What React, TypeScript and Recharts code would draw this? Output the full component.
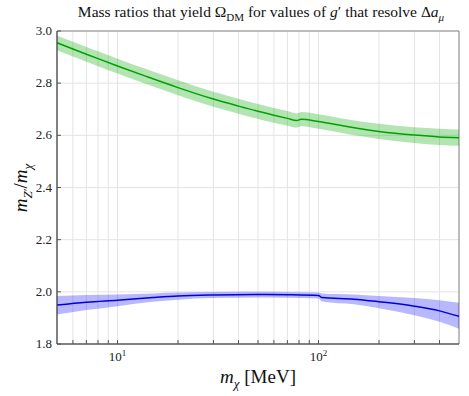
import React from "react";
import { ComposedChart, Area, Line, XAxis, YAxis, CartesianGrid, ReferenceArea } from "recharts";

const greenX = [5, 6, 7, 8, 10, 14, 20, 30, 40, 50, 60, 70, 78, 82, 100, 143, 200, 300, 400, 500];
const greenMid = [2.955, 2.931, 2.911, 2.894, 2.866, 2.825, 2.783, 2.739, 2.712, 2.692, 2.677, 2.665, 2.657, 2.662, 2.653, 2.632, 2.615, 2.601, 2.594, 2.591];
const greenLo = [2.926, 2.902, 2.882, 2.865, 2.837, 2.796, 2.754, 2.71, 2.683, 2.663, 2.648, 2.637, 2.63, 2.635, 2.625, 2.603, 2.586, 2.571, 2.563, 2.56];
const greenHi = [2.983, 2.959, 2.939, 2.922, 2.894, 2.853, 2.811, 2.767, 2.74, 2.72, 2.705, 2.693, 2.684, 2.689, 2.681, 2.66, 2.644, 2.631, 2.625, 2.622];

const blueX = [5, 7, 10, 15, 20, 30, 50, 70, 100, 104, 150, 200, 300, 400, 500];
const blueMid = [1.949, 1.96, 1.968, 1.978, 1.984, 1.988, 1.99, 1.989, 1.986, 1.978, 1.972, 1.962, 1.945, 1.927, 1.906];
const blueLo = [1.913, 1.93, 1.945, 1.962, 1.97, 1.976, 1.978, 1.977, 1.974, 1.963, 1.952, 1.937, 1.91, 1.885, 1.858];
const blueHi = [1.984, 1.988, 1.99, 1.994, 1.997, 1.999, 2.0, 1.999, 1.997, 1.994, 1.99, 1.984, 1.976, 1.968, 1.958];

const xTicks = [6, 7, 8, 9, 10, 20, 30, 40, 50, 60, 70, 80, 90, 100, 200, 300, 400];
const xLabeled: Record<number, string> = { 10: "1", 100: "2" };
const yTicks = [1.8, 2.0, 2.2, 2.4, 2.6, 2.8, 3.0];

const greenData = greenX.map((x, i) => ({ x, mid: greenMid[i], band: [greenLo[i], greenHi[i]] }));
const blueData = blueX.map((x, i) => ({ x, mid: blueMid[i], band: [blueLo[i], blueHi[i]] }));

const FONT = "'Times New Roman', 'Liberation Serif', Tinos, 'Noto Serif', 'DejaVu Serif', serif";

const XTick = (props: any) => {
  const { x, y, payload } = props;
  const v = payload.value;
  const exp = xLabeled[v];
  return (
    <g>
      <line x1={x} y1={y} x2={x} y2={y - 4} stroke="#555" strokeWidth={1} />
      {exp && (
        <text x={x} y={y + 17} textAnchor="middle" style={{ fontFamily: FONT }} fontSize={13} fill="#222">
          10<tspan dy={-5} fontSize={9}>{exp}</tspan>
        </text>
      )}
    </g>
  );
};

const YTick = (props: any) => {
  const { x, y, payload } = props;
  return (
    <g>
      <line x1={x} y1={y} x2={x + 4} y2={y} stroke="#555" strokeWidth={1} />
      <text x={x - 5} y={y + 4} textAnchor="end" style={{ fontFamily: FONT }} fontSize={13} fill="#222">
        {payload.value.toFixed(1)}
      </text>
    </g>
  );
};

export default function App() {
  return (
    <div style={{ position: "absolute", left: 0, top: 0, width: 469, height: 396, background: "#fff", fontFamily: FONT }}>
      <ComposedChart width={469} height={396} margin={{ top: 31, right: 10, bottom: 0, left: 0 }}>
        <CartesianGrid stroke="#e4e4e4" strokeWidth={1} />
        <XAxis
          dataKey="x"
          type="number"
          scale="log"
          domain={[5, 500]}
          allowDataOverflow
          ticks={xTicks}
          interval={0}
          height={52}
          tickSize={0}
          tickMargin={0}
          tickLine={false}
          tick={<XTick />}
          axisLine={{ stroke: "#444", strokeWidth: 1 }}
        />
        <YAxis
          type="number"
          domain={[1.8, 3.0]}
          ticks={yTicks}
          interval={0}
          width={57}
          tickSize={0}
          tickMargin={0}
          tickLine={false}
          tick={<YTick />}
          axisLine={{ stroke: "#444", strokeWidth: 1 }}
          allowDataOverflow
        />
        <ReferenceArea x1={5} x2={500} y1={1.8} y2={3.0} fill="none" stroke="#888" strokeWidth={1} ifOverflow="visible" />
        <Area data={greenData} dataKey="band" type="monotone" stroke="none" fill="#00aa00" fillOpacity={0.3} isAnimationActive={false} />
        <Line data={greenData} dataKey="mid" type="monotone" stroke="#00a000" strokeWidth={1.5} dot={false} isAnimationActive={false} />
        <Area data={blueData} dataKey="band" type="monotone" stroke="none" fill="#0000ff" fillOpacity={0.28} isAnimationActive={false} />
        <Line data={blueData} dataKey="mid" type="monotone" stroke="#0000dd" strokeWidth={1.5} dot={false} isAnimationActive={false} />
      </ComposedChart>
      <div style={{ position: "absolute", left: 0, width: 522, top: 3, textAlign: "center", fontSize: 15.5, color: "#111", whiteSpace: "nowrap", lineHeight: "17px" }}>
        Mass ratios that yield Ω<sub style={{ fontSize: 11 }}>DM</sub> for values of <i>g</i>′ that resolve Δ<i>a</i><sub style={{ fontSize: 11 }}><i>μ</i></sub>
      </div>
      <div style={{ position: "absolute", left: 158, width: 200, top: 366, textAlign: "center", fontSize: 19, color: "#111", whiteSpace: "nowrap" }}>
        <i>m</i><sub style={{ fontSize: 13 }}><i>χ</i></sub> [MeV]
      </div>
      <div style={{ position: "absolute", left: -78, top: 176, width: 200, textAlign: "center", fontSize: 19, color: "#111", whiteSpace: "nowrap", transform: "rotate(-90deg)", transformOrigin: "100px 12px" }}>
        <i>m</i><sub style={{ fontSize: 13 }}><i>Z</i>′</sub>/<i>m</i><sub style={{ fontSize: 13 }}><i>χ</i></sub>
      </div>
    </div>
  );
}
